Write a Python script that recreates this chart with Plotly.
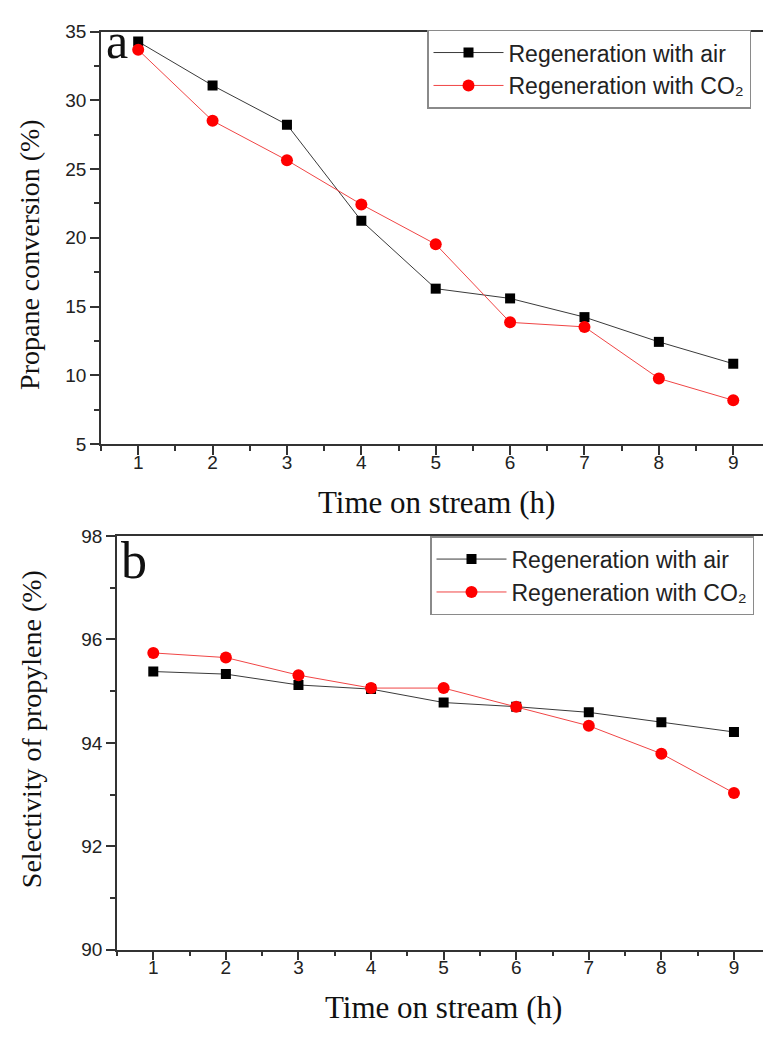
import plotly.graph_objects as go

hours = [1, 2, 3, 4, 5, 6, 7, 8, 9]
conv_air = [34.27, 31.08, 28.23, 21.24, 16.30, 15.59, 14.23, 12.43, 10.84]
conv_co2 = [33.67, 28.51, 25.64, 22.43, 19.53, 13.85, 13.52, 9.77, 8.18]
sel_air = [95.38, 95.33, 95.12, 95.04, 94.78, 94.70, 94.59, 94.40, 94.21]
sel_co2 = [95.74, 95.65, 95.31, 95.06, 95.06, 94.70, 94.33, 93.79, 93.03]

name_air = "Regeneration with air"
name_co2 = "Regeneration with CO₂"

W, H = 763, 1037
fig = go.Figure()

def add_pair(xa, ya, air, co2, legend):
    fig.add_trace(go.Scatter(x=hours, y=air, name=name_air, mode="lines+markers",
                             xaxis=xa, yaxis=ya, legend=legend,
                             line=dict(color="#3a3a3a", width=1),
                             marker=dict(symbol="square", size=10, color="black")))
    fig.add_trace(go.Scatter(x=hours, y=co2, name=name_co2, mode="lines+markers",
                             xaxis=xa, yaxis=ya, legend=legend,
                             line=dict(color="#f04545", width=1),
                             marker=dict(symbol="circle", size=12, color="#ff0000")))

add_pair("x", "y", conv_air, conv_co2, "legend")
add_pair("x2", "y2", sel_air, sel_co2, "legend2")

tickfont = dict(family="Liberation Sans, Arial", size=19, color="#222")
axline = dict(showline=True, linecolor="#333", linewidth=1.5, showgrid=False,
              zeroline=False, ticks="outside", tickcolor="#333", tickwidth=1.5,
              ticklen=9, tickfont=tickfont)

def px_x(p):
    return p / W

def px_y(p):
    return 1 - p / H

minor_x = dict(ticks="outside", ticklen=5, dtick=0.5, tick0=0.5, tickcolor="#333", tickwidth=1.5)

legend_font = dict(family="Liberation Sans, Arial", size=23, color="#222")

fig.update_layout(
    width=W, height=H,
    margin=dict(l=0, r=0, t=0, b=0),
    paper_bgcolor="white", plot_bgcolor="white",
    xaxis=dict(domain=[px_x(101), 1.0], anchor="y", range=[0.5, 9.4],
               tickmode="array", tickvals=hours, mirror=True,
               ticklabelstandoff=-9, minor=minor_x, **axline),
    yaxis=dict(domain=[px_y(443), px_y(22)], anchor="x", range=[5, 35],
               dtick=5, tick0=5,
               minor=dict(ticks="outside", ticklen=5, dtick=2.5, tickcolor="#333", tickwidth=1.5),
               **axline),
    xaxis2=dict(domain=[px_x(117), 1.0], anchor="y2", range=[0.5, 9.4],
                tickmode="array", tickvals=hours, mirror=True,
                ticklabelstandoff=-9, minor=minor_x, **axline),
    yaxis2=dict(domain=[px_y(959), px_y(537)], anchor="x2", range=[90, 98],
                dtick=2, tick0=90,
                minor=dict(ticks="outside", ticklen=5, dtick=1, tickcolor="#333", tickwidth=1.5),
                **axline),
    legend=dict(x=px_x(751), xanchor="right", y=px_y(20), yanchor="top",
                bgcolor="white", bordercolor="#8a8a8a", borderwidth=1.5,
                font=legend_font, itemwidth=70, tracegroupgap=0),
    legend2=dict(x=px_x(754), xanchor="right", y=px_y(537), yanchor="top",
                 bgcolor="white", bordercolor="#8a8a8a", borderwidth=1.5,
                 font=legend_font, itemwidth=70, tracegroupgap=0),
)

serif = "Liberation Serif, Times New Roman"
annots = [
    dict(text="Time on stream (h)", x=px_x(436), y=px_y(503), size=31, angle=0),
    dict(text="Time on stream (h)", x=px_x(443), y=px_y(1018), size=31, angle=0),
    dict(text="Propane conversion (%)", x=px_x(30), y=px_y(250), size=28, angle=-90),
    dict(text="Selectivity of propylene (%)", x=px_x(31), y=px_y(734), size=28, angle=-90),
    dict(text="a", x=px_x(117), y=px_y(32), size=50, angle=0),
    dict(text="b", x=px_x(134), y=px_y(562), size=52, angle=0),
]
for a in annots:
    fig.add_annotation(text=a["text"], x=a["x"], y=a["y"], xref="paper", yref="paper",
                       xanchor="center", yanchor="middle", showarrow=False,
                       textangle=a["angle"], font=dict(family=serif, size=a["size"], color="#111"))

fig.write_html("out.html")
